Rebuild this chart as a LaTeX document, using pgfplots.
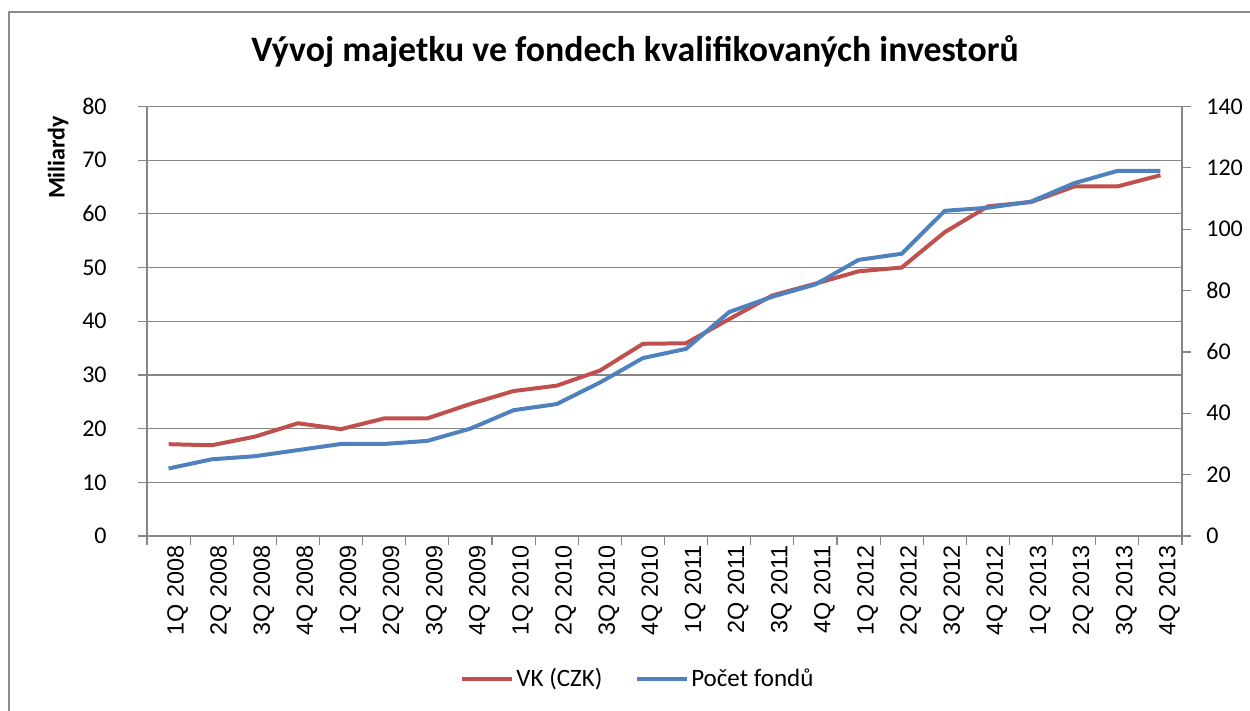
\documentclass[border=0pt]{standalone}
\usepackage{pgfplots}
\pgfplotsset{compat=1.18}
\usepackage{fontspec}
\setmainfont{Carlito}
\newfontfamily\arialfont{Liberation Sans}
\definecolor{vkred}{HTML}{C0504D}
\definecolor{fblue}{HTML}{4F81BD}
\definecolor{axgray}{HTML}{868686}
\definecolor{framegray}{HTML}{8C8C8C}

\pgfplotstableread{
x vk pocet
0  17.1  22
1  16.9  25
2  18.5  26
3  21.0  28
4  19.9  30
5  21.9  30
6  21.9  31
7  24.6  35
8  27.0  41
9  28.0  43
10 30.8  50
11 35.8  58
12 35.9  61
13 40.4  73
14 44.8  78
15 47.0  82
16 49.3  90
17 50.0  92
18 56.6  106
19 61.4  107
20 62.2  109
21 65.1  115
22 65.1  119
23 67.2  119
}\datatable

\begin{document}
\begin{tikzpicture}
\useasboundingbox (0,0) rectangle (625pt,355.5pt);
% chart frame
\draw[framegray, line width=1pt] (4.5pt,-1pt) -- (4.5pt,349.5pt) -- (626pt,349.5pt);

\pgfplotsset{
  common/.style={
    scale only axis,
    width=517.5pt, height=214.75pt,
    at={(73.5pt,87.5pt)}, anchor=south west,
    xmin=-0.5, xmax=23.5,
    tick align=outside,
    major tick length=4.5pt, minor tick length=4.5pt,
    axis line style={axgray, line width=0.6pt},
    every tick/.style={axgray, line width=0.6pt},
    /pgf/number format/assume math mode=true,
    tick label style={font=\fontsize{12pt}{14pt}\selectfont, text=black},
  }
}

\begin{axis}[common,
  axis x line*=bottom, axis y line*=left,
  ymin=0, ymax=80, ytick={0,10,...,80},
  ymajorgrids, grid style={axgray, line width=0.6pt},
  xtick={0,...,23},
  xticklabels={1Q 2008,2Q 2008,3Q 2008,4Q 2008,1Q 2009,2Q 2009,3Q 2009,4Q 2009,1Q 2010,2Q 2010,3Q 2010,4Q 2010,1Q 2011,2Q 2011,3Q 2011,4Q 2011,1Q 2012,2Q 2012,3Q 2012,4Q 2012,1Q 2013,2Q 2013,3Q 2013,4Q 2013},
  major x tick style={draw=none},
  minor xtick={-0.5,0.5,...,23.5},
  minor x tick style={axgray, line width=0.6pt},
  xticklabel style={rotate=90, anchor=east, inner sep=0pt, yshift=-4.5pt, font=\arialfont\fontsize{11.7pt}{13pt}\selectfont},
  yticklabel style={anchor=east, inner sep=0pt, xshift=-15.5pt},
]
\addplot[vkred, line width=2pt, mark=none] table[x=x, y=vk] {\datatable};
\end{axis}

\begin{axis}[common,
  axis x line=none, axis y line*=right,
  ymin=0, ymax=140, ytick={0,20,...,140},
  yticklabel style={anchor=west, inner sep=0pt, xshift=7.5pt},
  legend columns=2,
  legend style={draw=none, fill=none, at={(0.4744,-0.333)}, anchor=center,
    font=\fontsize{12.5pt}{14pt}\selectfont,
    /tikz/every even column/.append style={column sep=15pt},
    nodes={inner sep=1.2pt}},
  legend image code/.code={\draw[#1, line width=2pt] (0pt,0pt) -- (25pt,0pt);},
]
\addlegendimage{vkred, line width=2pt}
\addlegendentry{VK (CZK)}
\addplot[fblue, line width=2pt, mark=none] table[x=x, y=pocet] {\datatable};
\addlegendentry{Počet fondů}
\end{axis}

\node[anchor=base, font=\bfseries\fontsize{17.9pt}{21pt}\selectfont] at (317.5pt,324.5pt) {Vývoj majetku ve fondech kvalifikovaných investorů};
\node[rotate=90, font=\bfseries\fontsize{12pt}{14pt}\selectfont] at (29pt,276.75pt) {Miliardy};
\end{tikzpicture}
\end{document}
